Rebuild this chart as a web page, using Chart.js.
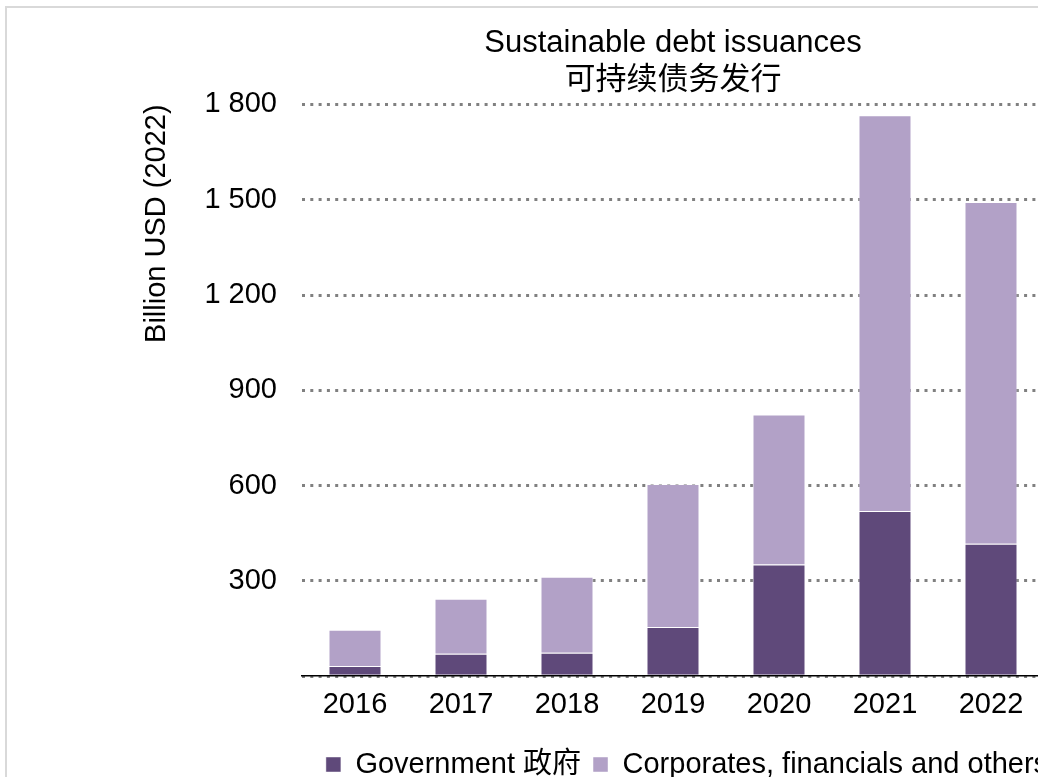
<!DOCTYPE html>
<html>
<head>
<meta charset="utf-8">
<script src="https://cdn.jsdelivr.net/npm/chart.js@4/dist/chart.umd.min.js"></script>
<style>
  html, body { margin: 0; padding: 0; overflow: hidden; background: #fff; }
  #frame {
    position: absolute; left: 5px; top: 6px;
    border: 2px solid #d9d9d9;
    width: 1227px; height: 781px;
  }
</style>
</head>
<body>
<div id="frame"><canvas id="debtChart"></canvas></div>
<script>
// Sustainable debt issuances, billion USD (2022)
var years = ['2016', '2017', '2018', '2019', '2020', '2021', '2022'];
var government = [32, 71, 74, 155, 352, 520, 417];
var corporates = [114, 173, 239, 450, 472, 1246, 1076];

var fontFamily = "'Liberation Sans', Arial, 'Noto Sans CJK SC', sans-serif";

// "1 800" style thousands separator, no label at zero
function formatTick(value) {
    if (value === 0) return '';
    return String(value).replace(/\B(?=(\d{3})+(?!\d))/g, ' ');
}

var ctx = document.getElementById('debtChart').getContext('2d');

var debtChart = new Chart(ctx, {
    type: 'bar',
    data: {
        labels: years,
        datasets: [
            {
                label: 'Government 政府',
                data: government,
                backgroundColor: '#5f497a',
                borderColor: 'rgba(255, 255, 255, 0.45)',
                borderWidth: 1
            },
            {
                label: 'Corporates, financials and others',
                data: corporates,
                backgroundColor: '#b2a1c7',
                borderColor: 'rgba(255, 255, 255, 0.45)',
                borderWidth: 1
            }
        ]
    },
    options: {
        responsive: true,
        maintainAspectRatio: false,
        animation: false,
        layout: {
            padding: { left: 133, right: 0, top: 0, bottom: 0 }
        },
        datasets: {
            bar: { categoryPercentage: 1, barPercentage: 0.5 }
        },
        scales: {
            x: {
                stacked: true,
                grid: { display: false, drawTicks: false },
                border: { display: true, color: '#000', width: 1.5 },
                ticks: {
                    color: '#000',
                    padding: 11,
                    font: { family: fontFamily, size: 29 }
                },
                afterFit: function (scale) { scale.height += 5; }
            },
            y: {
                stacked: true,
                min: 0,
                max: 1800,
                grid: {
                    color: '#808080',
                    lineWidth: 3,
                    drawTicks: false
                },
                border: { display: false, dash: [3, 5.3] },
                ticks: {
                    stepSize: 300,
                    color: '#000',
                    padding: 25,
                    font: { family: fontFamily, size: 29 },
                    callback: formatTick
                },
                title: {
                    display: true,
                    text: 'Billion USD (2022)',
                    align: 'end',
                    color: '#000',
                    padding: { top: 0, bottom: 0 },
                    font: { family: fontFamily, size: 29 }
                },
                afterFit: function (scale) { scale.width = 162; }
            },
            // empty axis on the right, only reserves space
            yRight: {
                position: 'right',
                display: true,
                grid: { display: false },
                border: { display: false },
                ticks: { display: false },
                afterFit: function (scale) { scale.width = 190; }
            }
        },
        plugins: {
            title: {
                display: true,
                fullSize: false,
                text: ['Sustainable debt issuances', '可持续债务发行'],
                color: '#000',
                padding: { top: 17, bottom: 5 },
                font: { family: fontFamily, size: 31, weight: 'normal', lineHeight: 1.2 }
            },
            legend: {
                display: true,
                position: 'bottom',
                labels: {
                    color: '#000',
                    boxWidth: 15,
                    boxHeight: 15,
                    padding: 12,
                    font: { family: fontFamily, size: 29 }
                }
            },
            tooltip: { enabled: false }
        }
    }
});
</script>
</body>
</html>
